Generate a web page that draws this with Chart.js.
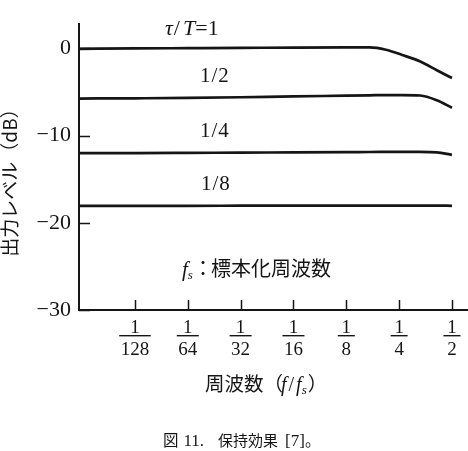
<!DOCTYPE html>
<html><head><meta charset="utf-8">
<script src="https://cdn.jsdelivr.net/npm/chart.js@4.4.1/dist/chart.umd.min.js"></script>
<style>html,body{margin:0;padding:0;background:#fff;}#wrap{width:468px;height:451px;position:relative;}</style>
</head><body><div id="wrap"><canvas id="c" width="468" height="451"></canvas></div>
<script>
// ---- data ----
const xTickValues = [1/128, 1/64, 1/32, 1/16, 1/8, 1/4, 1/2];
const xTickNum = ['1','1','1','1','1','1','1'];
const xTickDen = ['128','64','32','16','8','4','2'];
const yTickValues = [0, -10, -20, -30];
const yTickLabels = ['0', '−10', '−20', '−30'];
const freq = [0.00375, 1/128, 1/64, 1/32, 1/16, 1/8, 0.17, 0.21, 0.26, 0.33, 0.41, 0.5];
const tau1   = [-0.05, 0, 0.03, 0.06, 0.1, 0.12, 0.12, -0.15, -0.75, -1.5, -2.5, -3.4];
const tau1_2 = [-5.75, -5.72, -5.68, -5.6, -5.5, -5.42, -5.38, -5.35, -5.35, -5.4, -5.95, -6.8];
const tau1_4 = [-12.0, -12.0, -11.98, -11.95, -11.93, -11.9, -11.88, -11.87, -11.86, -11.86, -11.92, -12.2];
const tau1_8 = [-18.05, -18.05, -18.05, -18.04, -18.03, -18.02, -18.02, -18.02, -18.02, -18.02, -18.02, -18.05];
const seriesNames = ['τ/T=1', '1/2', '1/4', '1/8'];
const seriesValues = [tau1, tau1_2, tau1_4, tau1_8];

const SERIF = '"Liberation Serif", "DejaVu Serif", serif';
const CJK = '"Noto Sans CJK JP", "Noto Sans CJK SC", sans-serif';
const INK = '#151515';

// parts: [text, font, dy, gapAfter]
function drawRuns(ctx, parts, x, y) {
  let cx = x;
  ctx.textAlign = 'left';
  ctx.textBaseline = 'alphabetic';
  for (const p of parts) {
    ctx.font = p[1];
    ctx.fillText(p[0], cx, y + (p[2] || 0));
    cx += ctx.measureText(p[0]).width + (p[3] || 0);
  }
}

const decor = {
  id: 'decor',
  afterDraw(chart) {
    const {ctx, scales: {x, y}, chartArea: a} = chart;
    ctx.save();
    ctx.strokeStyle = INK; ctx.fillStyle = INK; ctx.lineWidth = 1.5;
    // inward tick marks
    ctx.beginPath();
    x.ticks.forEach(t => { const px = Math.round(x.getPixelForValue(t.value)) + 0.5; ctx.moveTo(px, a.bottom); ctx.lineTo(px, a.bottom - 10); });
    y.ticks.forEach(t => { const py = Math.round(y.getPixelForValue(t.value)) + 0.5; ctx.moveTo(a.left, py); ctx.lineTo(a.left + 11, py); });
    ctx.stroke();
    // fraction bars under the numerators
    ctx.font = '19px ' + SERIF;
    x.ticks.forEach((t, i) => {
      const px = x.getPixelForValue(t.value);
      const w = Math.max(ctx.measureText(xTickDen[i]).width + 3, 17);
      ctx.fillRect(px - w / 2, a.bottom + 25, w, 1.4);
    });
    // curve labels
    const it = 'italic 22px ' + SERIF, rm = '22px ' + SERIF, r = '21px ' + SERIF;
    drawRuns(ctx, [['τ', it, 0, 1], ['/', rm, 0, 3], ['T', it, 0, 0], ['=1', rm]], 165, 35);
    drawRuns(ctx, [['1', r, 0, 1], ['/', r, 0, 1], ['2', r]], 200, 82);
    drawRuns(ctx, [['1', r, 0, 1], ['/', r, 0, 1], ['4', r]], 200, 137);
    drawRuns(ctx, [['1', r, 0, 1], ['/', r, 0, 1], ['8', r]], 201, 190);
    // note
    drawRuns(ctx, [['f', 'italic 21px ' + SERIF, 0, 0], ['s', 'italic 13px ' + SERIF, 3, 0], ['：', '20px ' + CJK, 0, -2], ['標本化周波数', '20px ' + CJK]], 182, 276);
    // x axis title
    drawRuns(ctx, [['周波数（', '19.5px ' + CJK, 0, -2], ['f', 'italic 20px ' + SERIF, 0, 2], ['/', '20px ' + SERIF, 0, 2], ['f', 'italic 20px ' + SERIF, 0, 0], ['s', 'italic 13px ' + SERIF, 3, 1], ['）', '19.5px ' + CJK]], 205, 391);
    // caption
    drawRuns(ctx, [['図', '15.5px ' + CJK, 0, 5], ['11.', '17px ' + SERIF, 0, 14], ['保持効果', '15px ' + CJK, 0, 7], ['[7]', '17px ' + SERIF, 0, 0], ['。', '15.5px ' + CJK]], 163, 446);
    // y axis title (rotated)
    ctx.translate(9.5, 178);
    ctx.rotate(-Math.PI / 2);
    ctx.font = '19px ' + CJK;
    ctx.textAlign = 'center'; ctx.textBaseline = 'middle';
    ctx.fillText('出力レベル（dB）', 0, 0);
    ctx.restore();
  }
};

new Chart(document.getElementById('c'), {
  type: 'line',
  data: {
    datasets: seriesValues.map((vals, i) => ({
      label: seriesNames[i],
      data: freq.map((f, j) => ({x: f, y: vals[j]})),
      borderColor: INK,
      borderWidth: 2.7,
      pointRadius: 0,
      cubicInterpolationMode: 'monotone',
      fill: false
    }))
  },
  options: {
    responsive: false,
    animation: false,
    events: [],
    layout: {padding: {top: 24, left: 0, right: 0, bottom: 0}},
    plugins: {legend: {display: false}, tooltip: {enabled: false}},
    scales: {
      x: {
        type: 'logarithmic', min: 0.00375, max: 0.617,
        afterBuildTicks: s => { s.ticks = xTickValues.map(v => ({value: v})); },
        afterFit: s => { s.height = 141; },
        grid: {display: false, drawTicks: false},
        border: {display: true, color: INK, width: 2},
        ticks: {
          autoSkip: false, maxRotation: 0, minRotation: 0, padding: 7, color: INK,
          font: {family: SERIF, size: 19, lineHeight: 1.15},
          callback: (v, i) => [xTickNum[i], xTickDen[i]]
        }
      },
      y: {
        type: 'linear', min: -30, max: 2.8,
        afterBuildTicks: s => { s.ticks = yTickValues.map(v => ({value: v})); },
        afterFit: s => { s.width = 79; },
        grid: {display: false, drawTicks: false},
        border: {display: true, color: INK, width: 2},
        ticks: {
          padding: 8, color: INK,
          font: {family: SERIF, size: 22},
          callback: (v, i) => yTickLabels[i]
        }
      }
    }
  },
  plugins: [decor]
});
</script>
</body></html>
